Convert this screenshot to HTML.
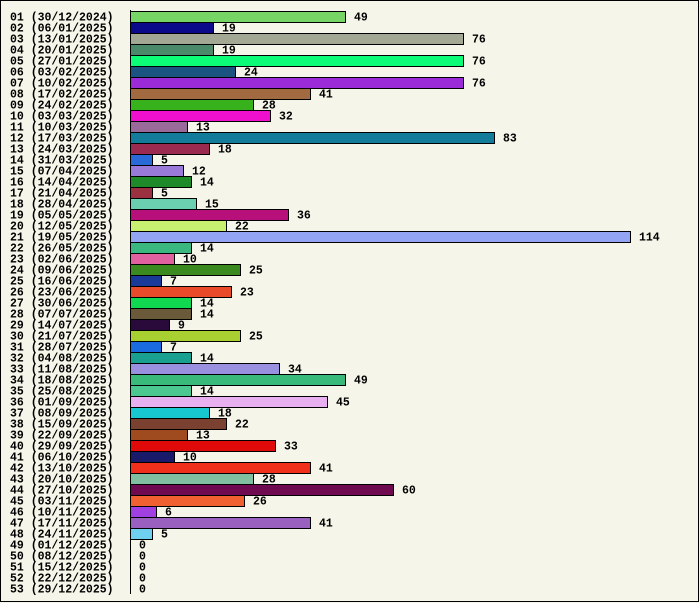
<!DOCTYPE html>
<html><head><meta charset="utf-8"><style>
html,body{margin:0;padding:0;background:#f5f5e9;}
svg{display:block}
text{font-family:"Liberation Mono","DejaVu Sans Mono",monospace;font-weight:bold;font-size:11.5px;fill:#000}
</style></head><body>
<svg width="700" height="603" xmlns="http://www.w3.org/2000/svg">
<rect x="0.5" y="0.5" width="698" height="601" fill="#f5f5e9" stroke="#000" stroke-width="1"/>
<g stroke="#000">
<rect x="130.5" y="11.5" width="215" height="11" fill="#77d566"/>
<rect x="130.5" y="22.5" width="83" height="11" fill="#0a0a8a"/>
<rect x="130.5" y="33.5" width="333" height="11" fill="#a3a894"/>
<rect x="130.5" y="44.5" width="83" height="11" fill="#4a8a6a"/>
<rect x="130.5" y="55.5" width="333" height="11" fill="#0dfc78"/>
<rect x="130.5" y="66.5" width="105" height="11" fill="#1b5480"/>
<rect x="130.5" y="77.5" width="333" height="11" fill="#9b2ad8"/>
<rect x="130.5" y="88.5" width="180" height="11" fill="#a26a40"/>
<rect x="130.5" y="99.5" width="123" height="11" fill="#37b21c"/>
<rect x="130.5" y="110.5" width="140" height="11" fill="#ee10cc"/>
<rect x="130.5" y="121.5" width="57" height="11" fill="#9a6a9a"/>
<rect x="130.5" y="132.5" width="364" height="11" fill="#127c9a"/>
<rect x="130.5" y="143.5" width="79" height="11" fill="#9a2a50"/>
<rect x="130.5" y="154.5" width="22" height="11" fill="#2a6ad8"/>
<rect x="130.5" y="165.5" width="53" height="11" fill="#9a7ad8"/>
<rect x="130.5" y="176.5" width="61" height="11" fill="#1e8a2a"/>
<rect x="130.5" y="187.5" width="22" height="11" fill="#9a3040"/>
<rect x="130.5" y="198.5" width="66" height="11" fill="#6ad0b0"/>
<rect x="130.5" y="209.5" width="158" height="11" fill="#b8107a"/>
<rect x="130.5" y="220.5" width="96" height="11" fill="#c8f070"/>
<rect x="130.5" y="231.5" width="500" height="11" fill="#94a4f4"/>
<rect x="130.5" y="242.5" width="61" height="11" fill="#3ab880"/>
<rect x="130.5" y="253.5" width="44" height="11" fill="#e060a0"/>
<rect x="130.5" y="264.5" width="110" height="11" fill="#3a8a20"/>
<rect x="130.5" y="275.5" width="31" height="11" fill="#1a3a9a"/>
<rect x="130.5" y="286.5" width="101" height="11" fill="#e84a2a"/>
<rect x="130.5" y="297.5" width="61" height="11" fill="#10d850"/>
<rect x="130.5" y="308.5" width="61" height="11" fill="#6a5a3a"/>
<rect x="130.5" y="319.5" width="39" height="11" fill="#2a0a3a"/>
<rect x="130.5" y="330.5" width="110" height="11" fill="#a8d030"/>
<rect x="130.5" y="341.5" width="31" height="11" fill="#1a6ae0"/>
<rect x="130.5" y="352.5" width="61" height="11" fill="#1aa090"/>
<rect x="130.5" y="363.5" width="149" height="11" fill="#9a90e0"/>
<rect x="130.5" y="374.5" width="215" height="11" fill="#3aba7a"/>
<rect x="130.5" y="385.5" width="61" height="11" fill="#4ac890"/>
<rect x="130.5" y="396.5" width="197" height="11" fill="#e8b0f0"/>
<rect x="130.5" y="407.5" width="79" height="11" fill="#18c8d0"/>
<rect x="130.5" y="418.5" width="96" height="11" fill="#7a4030"/>
<rect x="130.5" y="429.5" width="57" height="11" fill="#a04a20"/>
<rect x="130.5" y="440.5" width="145" height="11" fill="#e00a0a"/>
<rect x="130.5" y="451.5" width="44" height="11" fill="#1a1a6a"/>
<rect x="130.5" y="462.5" width="180" height="11" fill="#f0301a"/>
<rect x="130.5" y="473.5" width="123" height="11" fill="#80c0a0"/>
<rect x="130.5" y="484.5" width="263" height="11" fill="#700a50"/>
<rect x="130.5" y="495.5" width="114" height="11" fill="#f06030"/>
<rect x="130.5" y="506.5" width="26" height="11" fill="#a040e0"/>
<rect x="130.5" y="517.5" width="180" height="11" fill="#9a60c0"/>
<rect x="130.5" y="528.5" width="22" height="11" fill="#70d0f0"/>
</g>
<line x1="130.5" y1="10" x2="130.5" y2="594" stroke="#000"/>
<g>
<text x="10" y="20.5">01 (30/12/2024)</text><text x="354" y="20.5">49</text>
<text x="10" y="31.5">02 (06/01/2025)</text><text x="222" y="31.5">19</text>
<text x="10" y="42.5">03 (13/01/2025)</text><text x="472" y="42.5">76</text>
<text x="10" y="53.5">04 (20/01/2025)</text><text x="222" y="53.5">19</text>
<text x="10" y="64.5">05 (27/01/2025)</text><text x="472" y="64.5">76</text>
<text x="10" y="75.5">06 (03/02/2025)</text><text x="244" y="75.5">24</text>
<text x="10" y="86.5">07 (10/02/2025)</text><text x="472" y="86.5">76</text>
<text x="10" y="97.5">08 (17/02/2025)</text><text x="319" y="97.5">41</text>
<text x="10" y="108.5">09 (24/02/2025)</text><text x="262" y="108.5">28</text>
<text x="10" y="119.5">10 (03/03/2025)</text><text x="279" y="119.5">32</text>
<text x="10" y="130.5">11 (10/03/2025)</text><text x="196" y="130.5">13</text>
<text x="10" y="141.5">12 (17/03/2025)</text><text x="503" y="141.5">83</text>
<text x="10" y="152.5">13 (24/03/2025)</text><text x="218" y="152.5">18</text>
<text x="10" y="163.5">14 (31/03/2025)</text><text x="161" y="163.5">5</text>
<text x="10" y="174.5">15 (07/04/2025)</text><text x="192" y="174.5">12</text>
<text x="10" y="185.5">16 (14/04/2025)</text><text x="200" y="185.5">14</text>
<text x="10" y="196.5">17 (21/04/2025)</text><text x="161" y="196.5">5</text>
<text x="10" y="207.5">18 (28/04/2025)</text><text x="205" y="207.5">15</text>
<text x="10" y="218.5">19 (05/05/2025)</text><text x="297" y="218.5">36</text>
<text x="10" y="229.5">20 (12/05/2025)</text><text x="235" y="229.5">22</text>
<text x="10" y="240.5">21 (19/05/2025)</text><text x="639" y="240.5">114</text>
<text x="10" y="251.5">22 (26/05/2025)</text><text x="200" y="251.5">14</text>
<text x="10" y="262.5">23 (02/06/2025)</text><text x="183" y="262.5">10</text>
<text x="10" y="273.5">24 (09/06/2025)</text><text x="249" y="273.5">25</text>
<text x="10" y="284.5">25 (16/06/2025)</text><text x="170" y="284.5">7</text>
<text x="10" y="295.5">26 (23/06/2025)</text><text x="240" y="295.5">23</text>
<text x="10" y="306.5">27 (30/06/2025)</text><text x="200" y="306.5">14</text>
<text x="10" y="317.5">28 (07/07/2025)</text><text x="200" y="317.5">14</text>
<text x="10" y="328.5">29 (14/07/2025)</text><text x="178" y="328.5">9</text>
<text x="10" y="339.5">30 (21/07/2025)</text><text x="249" y="339.5">25</text>
<text x="10" y="350.5">31 (28/07/2025)</text><text x="170" y="350.5">7</text>
<text x="10" y="361.5">32 (04/08/2025)</text><text x="200" y="361.5">14</text>
<text x="10" y="372.5">33 (11/08/2025)</text><text x="288" y="372.5">34</text>
<text x="10" y="383.5">34 (18/08/2025)</text><text x="354" y="383.5">49</text>
<text x="10" y="394.5">35 (25/08/2025)</text><text x="200" y="394.5">14</text>
<text x="10" y="405.5">36 (01/09/2025)</text><text x="336" y="405.5">45</text>
<text x="10" y="416.5">37 (08/09/2025)</text><text x="218" y="416.5">18</text>
<text x="10" y="427.5">38 (15/09/2025)</text><text x="235" y="427.5">22</text>
<text x="10" y="438.5">39 (22/09/2025)</text><text x="196" y="438.5">13</text>
<text x="10" y="449.5">40 (29/09/2025)</text><text x="284" y="449.5">33</text>
<text x="10" y="460.5">41 (06/10/2025)</text><text x="183" y="460.5">10</text>
<text x="10" y="471.5">42 (13/10/2025)</text><text x="319" y="471.5">41</text>
<text x="10" y="482.5">43 (20/10/2025)</text><text x="262" y="482.5">28</text>
<text x="10" y="493.5">44 (27/10/2025)</text><text x="402" y="493.5">60</text>
<text x="10" y="504.5">45 (03/11/2025)</text><text x="253" y="504.5">26</text>
<text x="10" y="515.5">46 (10/11/2025)</text><text x="165" y="515.5">6</text>
<text x="10" y="526.5">47 (17/11/2025)</text><text x="319" y="526.5">41</text>
<text x="10" y="537.5">48 (24/11/2025)</text><text x="161" y="537.5">5</text>
<text x="10" y="548.5">49 (01/12/2025)</text><text x="139" y="548.5">0</text>
<text x="10" y="559.5">50 (08/12/2025)</text><text x="139" y="559.5">0</text>
<text x="10" y="570.5">51 (15/12/2025)</text><text x="139" y="570.5">0</text>
<text x="10" y="581.5">52 (22/12/2025)</text><text x="139" y="581.5">0</text>
<text x="10" y="592.5">53 (29/12/2025)</text><text x="139" y="592.5">0</text>
</g>
</svg>
</body></html>
